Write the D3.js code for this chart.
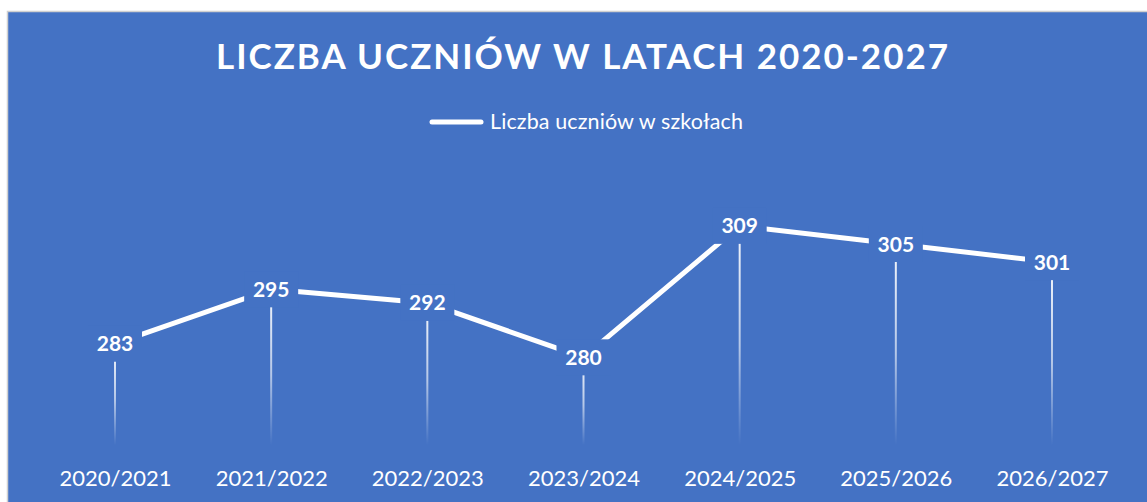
<!DOCTYPE html>
<html>
<head>
<meta charset="utf-8">
<script src="https://cdn.jsdelivr.net/npm/d3@7"></script>
<style>
  html, body { margin: 0; padding: 0; background: #ffffff; }
  svg { display: block; }
</style>
</head>
<body>
<svg id="chart" width="1147" height="502"></svg>
<script>
const categories = ["2020/2021", "2021/2022", "2022/2023", "2023/2024", "2024/2025", "2025/2026", "2026/2027"];
const values = [283, 295, 292, 280, 309, 305, 301];
const seriesName = "Liczba uczniów w szkołach";
const title = "LICZBA UCZNIÓW W LATACH 2020-2027";
const yDomain = [260, 320];

const W = 1147, H = 502;
const blue = "#4472C4";
const svg = d3.select("#chart");
const font = "Lato, 'Open Sans', sans-serif";

// chart area background
svg.append("rect")
  .attr("x", 7.5).attr("y", 11.5)
  .attr("width", W).attr("height", H)
  .attr("fill", blue)
  .attr("stroke", "#d0d0d0").attr("stroke-width", 1.5);

const x = d3.scalePoint().domain(categories).range([115, 1052]);
const y = d3.scaleLinear().domain(yDomain).range([448, 176]);

// gradient for drop lines
const defs = svg.append("defs");
const grad = defs.append("linearGradient")
  .attr("id", "dropGrad").attr("x1", 0).attr("y1", 0).attr("x2", 0).attr("y2", 1);
grad.append("stop").attr("offset", "0%").attr("stop-color", "#ffffff").attr("stop-opacity", 0.95);
grad.append("stop").attr("offset", "55%").attr("stop-color", "#ffffff").attr("stop-opacity", 0.6);
grad.append("stop").attr("offset", "100%").attr("stop-color", "#ffffff").attr("stop-opacity", 0);

const data = categories.map((c, i) => ({ c, v: values[i] }));

// drop lines
svg.append("g").selectAll("rect")
  .data(data).join("rect")
  .attr("x", d => x(d.c) - 1)
  .attr("y", d => y(d.v))
  .attr("width", 2)
  .attr("height", d => y(yDomain[0]) - 3 - y(d.v))
  .attr("fill", "url(#dropGrad)");

// line
const line = d3.line().x(d => x(d.c)).y(d => y(d.v));
svg.append("path")
  .datum(data)
  .attr("d", line)
  .attr("fill", "none")
  .attr("stroke", "#ffffff")
  .attr("stroke-width", 5)
  .attr("stroke-linejoin", "round");

// label boxes
svg.append("g").selectAll("rect")
  .data(data).join("rect")
  .attr("x", d => x(d.c) - 27)
  .attr("y", d => y(d.v) - 18)
  .attr("width", 54)
  .attr("height", 36)
  .attr("fill", blue);

// labels
svg.append("g").selectAll("text")
  .data(data).join("text")
  .attr("x", d => x(d.c))
  .attr("y", d => y(d.v))
  .attr("dy", "0.36em")
  .attr("text-anchor", "middle")
  .attr("font-family", font)
  .attr("font-weight", "bold")
  .attr("font-size", 21)
  .attr("fill", "#ffffff")
  .text(d => d.v);

// x axis labels
const xAxis = d3.axisBottom(x).tickSize(0).tickPadding(0);
const gx = svg.append("g").attr("transform", "translate(0,470)").call(xAxis);
gx.select(".domain").remove();
gx.selectAll("text")
  .attr("font-family", font)
  .attr("font-size", 22)
  .attr("fill", "#ffffff")
  .attr("dy", "0.71em");

// title
svg.append("text")
  .attr("x", 582).attr("y", 69)
  .attr("text-anchor", "middle")
  .attr("font-family", font)
  .attr("font-weight", "bold")
  .attr("font-size", 35)
  .attr("fill", "#ffffff")
  .attr("textLength", 732)
  .attr("lengthAdjust", "spacing")
  .text(title);

// legend
svg.append("line")
  .attr("x1", 432).attr("x2", 481).attr("y1", 122).attr("y2", 122)
  .attr("stroke", "#ffffff").attr("stroke-width", 5).attr("stroke-linecap", "round");
svg.append("text")
  .attr("x", 490).attr("y", 129)
  .attr("font-family", font)
  .attr("font-size", 21.5)
  .attr("fill", "#ffffff")
  .attr("textLength", 253)
  .attr("lengthAdjust", "spacing")
  .text(seriesName);
</script>
</body>
</html>
